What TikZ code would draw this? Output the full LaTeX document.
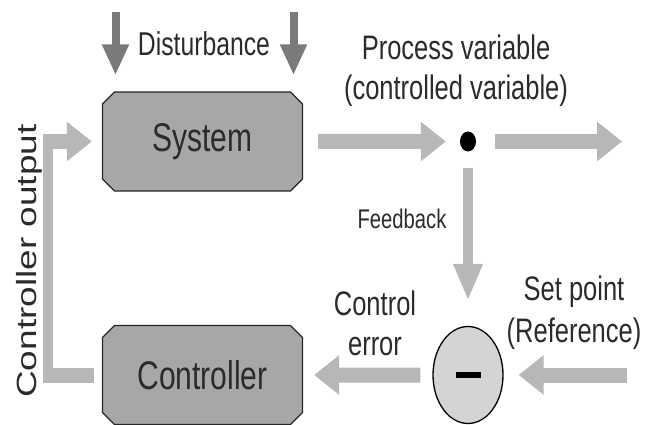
\documentclass[tikz,border=0pt]{standalone}
\usepackage{fontspec}
\setmainfont{Liberation Sans}
\usepackage{graphicx}
\usetikzlibrary{arrows.meta,positioning,calc,shapes.geometric,shapes.misc}
\definecolor{boxgray}{HTML}{A7A7A7}
\definecolor{flowgray}{HTML}{B7B7B7}
\definecolor{distgray}{HTML}{7A7A7A}
\definecolor{sumgray}{HTML}{D4D4D4}
\definecolor{ink}{HTML}{2B2B2B}
\newcommand{\sqz}[1]{\scalebox{.75}[1]{#1}}
\tikzset{
  box/.style={draw=black!85,line width=1.3pt,fill=boxgray,chamfered rectangle,chamfered rectangle xsep=6pt,chamfered rectangle ysep=6pt,minimum width=200pt,minimum height=99pt,inner sep=0pt,text=ink,font=\fontsize{40}{48}\selectfont},
  flow/.style={draw=flowgray,line width=15pt,-{Triangle[length=25pt,width=38pt]}},
  flowv/.style={draw=flowgray,line width=10pt,-{Triangle[length=37pt,width=27pt]}},
  dist/.style={draw=distgray,line width=8pt,-{Triangle[length=31pt,width=25pt]}},
  lbl/.style={text=ink,xscale=.75,align=center,inner sep=0pt},
}
\begin{document}
\begin{tikzpicture}[x=1pt,y=-1pt]
 \useasboundingbox (0,0) rectangle (645,425);
 \node[box] (sys) at (202.5,141.5) {\sqz{System}};
 \node[box] (ctrl) at (202.5,375) {\sqz{Controller}};
 \node[fill=black,ellipse,minimum width=16pt,minimum height=20pt,inner sep=0pt] (pv) at (468,141.5) {};
 \node[draw=black,line width=1.3pt,fill=sumgray,ellipse,minimum width=70pt,minimum height=97pt,inner sep=0pt] (sum) at (468,375) {\rule{25pt}{6pt}};
 \coordinate (out) at (622,141.5);
 \coordinate (sp) at (627,375);
 \coordinate (d1) at (115.5,12);
 \coordinate (d2) at (293.5,12);
 \coordinate (lc) at (48,0);
 % main loop
 \draw[flow,shorten <=15pt,shorten >=14pt] (sys) -- (pv);
 \draw[flow,shorten <=19pt] (pv) -- (out);
 \draw[flowv,shorten <=16pt,shorten >=25pt] (pv) -- (sum);
 \draw[flow,shorten >=15pt] (sp) -- (sum);
 \draw[flow,shorten <=12pt,shorten >=11pt] (sum) -- (ctrl);
 \draw[flow,-,shorten <=8pt] (ctrl.west) -- ([xshift=-5pt]lc |- ctrl.west);
 \draw[flowv,-,line cap=rect] (lc |- ctrl.west) -- (lc |- sys.west);
 \draw[flow,shorten >=10pt] ([xshift=-5pt]lc |- sys.west) -- (sys.west);
 % disturbances
 \draw[dist,shorten >=16pt] (d1) -- (d1 |- sys.north);
 \draw[dist,shorten >=16pt] (d2) -- (d2 |- sys.north);
 % labels
 \node[lbl,anchor=base,font=\fontsize{33}{40}\selectfont] (distl) at (204,56) {Disturbance};
 \node[lbl,font=\fontsize{34}{40}\selectfont] (pvl) at (456,71) {Process variable\\(controlled variable)};
 \node[lbl,anchor=base,font=\fontsize{27}{32}\selectfont] (fbl) at (402,228) {Feedback};
 \node[lbl,font=\fontsize{34}{40}\selectfont] (errl) at (375,323) {Control\\error};
 \node[lbl,font=\fontsize{34}{42}\selectfont] (spl) at (574,313) {Set point\\(Reference)};
 \node[text=ink,rotate=90,yscale=.75,anchor=base,inner sep=0pt,font=\fontsize{37}{44}\selectfont] (col) at (36,261) {Controller output};
\end{tikzpicture}
\end{document}
